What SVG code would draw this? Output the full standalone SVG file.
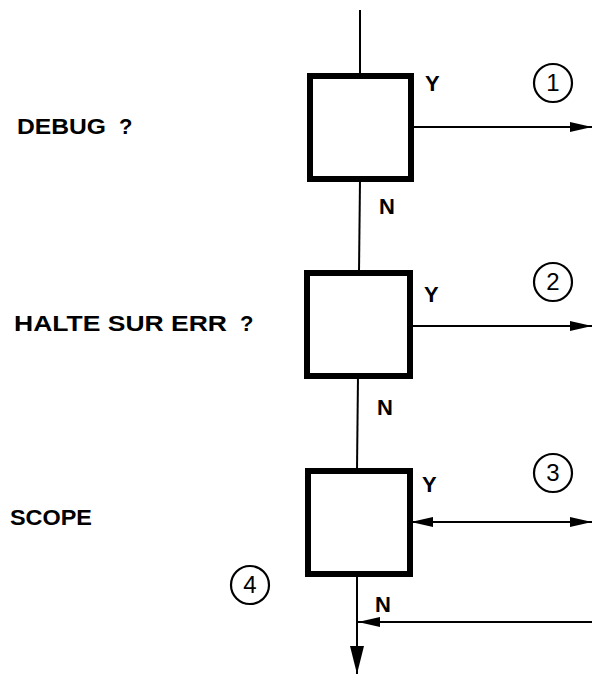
<svg xmlns="http://www.w3.org/2000/svg" width="592" height="674" viewBox="0 0 592 674">
<defs>
<style>
.box{fill:#fff;stroke:#000;stroke-width:6}
.ln{fill:none;stroke:#000;stroke-width:2}
.lbl{font-family:"Liberation Sans",Arial,sans-serif;font-weight:bold;font-size:22px;fill:#000}
.yn{font-family:"Liberation Sans",Arial,sans-serif;font-weight:bold;font-size:22px;fill:#000}
.num{font-family:"Liberation Sans",Arial,sans-serif;font-size:24px;fill:#000;text-anchor:middle}
.circ{fill:none;stroke:#000;stroke-width:2.2}
</style>
<marker id="ah" viewBox="0 0 22 12" refX="22" refY="6" markerWidth="22" markerHeight="12" markerUnits="userSpaceOnUse" orient="auto-start-reverse">
<path d="M0,1 L22,6 L0,11 Z" fill="#000"/>
</marker>
<marker id="ahd" viewBox="0 0 28 14" refX="28" refY="7" markerWidth="28" markerHeight="14" markerUnits="userSpaceOnUse" orient="auto">
<path d="M0,0 L28,7 L0,14 Z" fill="#000"/>
</marker>
</defs>
<g id="connectors">
<line class="ln" x1="360" y1="10" x2="360" y2="76"/>
<line class="ln" x1="360" y1="180" x2="359" y2="272"/>
<line class="ln" x1="358" y1="376" x2="357" y2="470"/>
<line class="ln" x1="357" y1="575" x2="357" y2="674" marker-end="url(#ahd)"/>
<line class="ln" x1="412" y1="127" x2="592" y2="127" marker-end="url(#ah)"/>
<line class="ln" x1="410" y1="326" x2="592" y2="326" marker-end="url(#ah)"/>
<line class="ln" x1="411" y1="522" x2="592" y2="522" marker-start="url(#ah)" marker-end="url(#ah)"/>
<line class="ln" x1="592" y1="622" x2="358" y2="622" marker-end="url(#ah)"/>
</g>
<g id="node1">
<rect class="box" x="310" y="76" width="101" height="103"/>
<text class="lbl" x="17" y="134" textLength="89" lengthAdjust="spacingAndGlyphs">DEBUG</text>
<text class="lbl" x="119" y="134">?</text>
<text class="yn" x="425" y="91">Y</text>
<text class="yn" x="379" y="214">N</text>
<circle class="circ" cx="553" cy="83" r="19"/>
<text class="num" x="553" y="91">1</text>
</g>
<g id="node2">
<rect class="box" x="307" y="273" width="103" height="103"/>
<text class="lbl" x="14" y="331" textLength="213" lengthAdjust="spacingAndGlyphs">HALTE SUR ERR</text>
<text class="lbl" x="240" y="331">?</text>
<text class="yn" x="424" y="302">Y</text>
<text class="yn" x="377" y="415">N</text>
<circle class="circ" cx="553" cy="282" r="19"/>
<text class="num" x="553" y="290">2</text>
</g>
<g id="node3">
<rect class="box" x="308" y="471" width="102" height="103"/>
<text class="lbl" x="10" y="525" textLength="82" lengthAdjust="spacingAndGlyphs">SCOPE</text>
<text class="yn" x="422" y="492">Y</text>
<text class="yn" x="375" y="612">N</text>
<circle class="circ" cx="553" cy="473" r="19"/>
<text class="num" x="553" y="481">3</text>
</g>
<g id="node4">
<circle class="circ" cx="250" cy="585" r="19"/>
<text class="num" x="250" y="593">4</text>
</g>
</svg>
